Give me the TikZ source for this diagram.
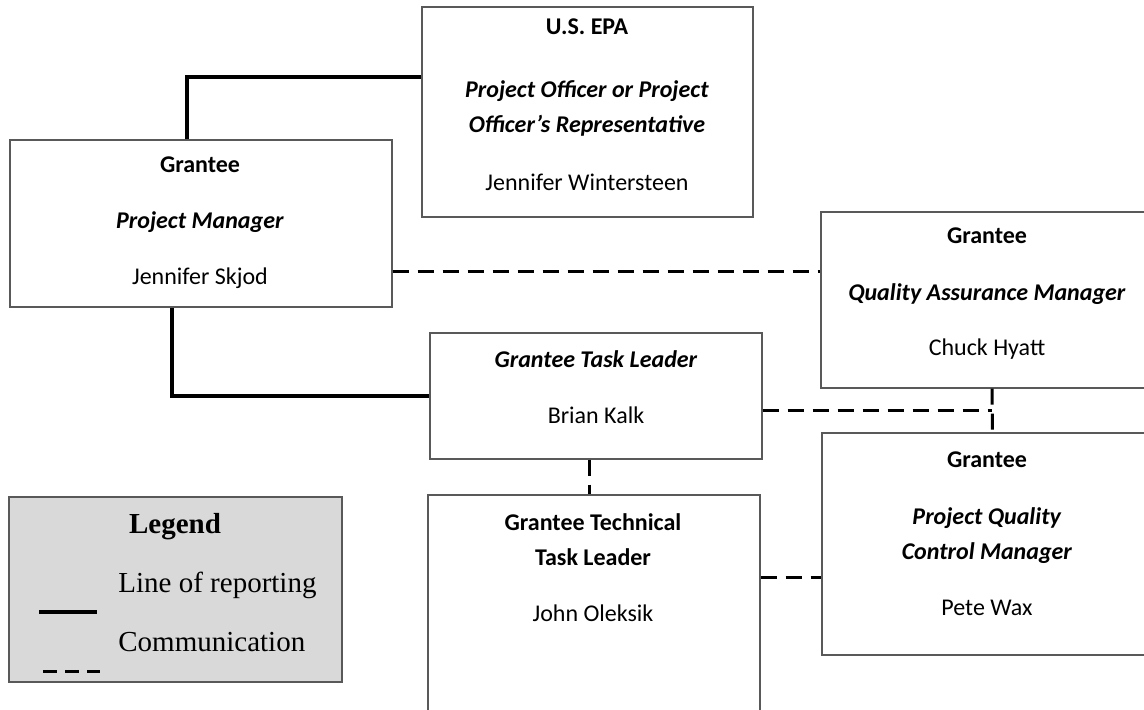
\documentclass[tikz,border=0pt]{standalone}
\usepackage{fontspec}
\setmainfont{Carlito}
\newfontfamily\legendfont{Liberation Serif}
\usetikzlibrary{shapes}
\tikzstyle{block} = [rectangle, draw=black!65, line width=0.6pt, fill=white]
\tikzstyle{boxtext} = [align=center, inner sep=0pt,
    font=\fontsize{12}{17.5}\selectfont]
\tikzstyle{solidline} = [draw=black, line width=1.6pt]
\tikzstyle{dashline} = [draw=black, line width=1.5pt, dash pattern=on 8pt off 4.5pt]
\tikzstyle{legendbox} = [rectangle, draw=black!65, line width=0.8pt, fill=black!15]
\tikzstyle{legendtext} = [inner sep=0pt, font=\legendfont\fontsize{14.5}{17}\selectfont]

\begin{document}
\begin{tikzpicture}[x=0.5pt, y=-0.5pt]
        \useasboundingbox (0,0) rectangle (1144,709);
        \clip (0,0) rectangle (1144,709);
        % Place boxes
        \node [block, minimum width=165.5pt, minimum height=105pt] (epa) at (587.5,112) {};
        \node [block, minimum width=191pt, minimum height=83.5pt] (pm) at (201,223.5) {};
        \node [block, minimum width=166pt, minimum height=63pt] (tl) at (596,396) {};
        \node [block, minimum width=166pt, minimum height=132.5pt] (tech) at (594,627.5) {};
        \node [block, minimum width=171pt, minimum height=88pt] (qa) at (992,300) {};
        \node [block, minimum width=170.5pt, minimum height=111pt] (pqc) at (992.5,544) {};
        % Box texts
        \node [boxtext] (epatext) at (587,105) {\textbf{U.S. EPA}\\[14pt]
            \textbf{\textit{Project Officer or Project}}\\
            \textbf{\textit{Officer’s Representative}}\\[11.5pt]
            Jennifer Wintersteen};
        \node [boxtext] (pmtext) at (200,223) {\textbf{Grantee}\\[10.5pt]
            \textbf{\textit{Project Manager}}\\[10.5pt]
            Jennifer Skjod};
        \node [boxtext] (tltext) at (596,387) {\textbf{\textit{Grantee Task Leader}}\\[10.5pt]
            Brian Kalk};
        \node [boxtext] (techtext) at (593,567.5) {\textbf{Grantee Technical}\\
            \textbf{Task Leader}\\[10.5pt]
            John Oleksik};
        \node [boxtext] (qatext) at (987,293.5) {\textbf{Grantee}\\[11pt]
            \textbf{\textit{Quality Assurance Manager}}\\[10pt]
            Chuck Hyatt};
        \node [boxtext] (pqctext) at (987,534) {\textbf{Grantee}\\[11pt]
            \textbf{\textit{Project Quality}}\\
            \textbf{\textit{Control Manager}}\\[10.5pt]
            Pete Wax};
        % Legend
        \node [legendbox, minimum width=166.5pt, minimum height=92.5pt] (legend) at (175.5,589.5) {};
        \node [legendtext] (legendtitle) at (175,527) {\textbf{Legend}};
        \node [legendtext, anchor=west] (reporting) at (118,585) {Line of reporting};
        \node [legendtext, anchor=west] (communication) at (118,642) {Communication};
        \coordinate (solidstart) at (39,612);
        \coordinate (solidend) at (97,612);
        \coordinate (dashstart) at (43,671);
        \coordinate (dashend) at (100,671);
        % Draw edges
        \path [solidline] ([xshift=-7pt]pm.north) |- ([yshift=17.5pt]epa.west);
        \path [solidline] ([xshift=-14.5pt]pm.south) |- (tl.west);
        \path [dashline] ([yshift=-23.75pt]pm.east) -- ([yshift=-23.75pt]pm.east -| qa.west);
        \path [dashline] ([yshift=-7pt]tl.east) -- ([yshift=-7pt]tl.east -| qa.south);
        \path [dashline] (qa.south) -- (pqc.north);
        \path [dashline] ([xshift=-3.5pt]tl.south) -- ([xshift=-3.5pt]tl.south |- tech.north);
        \path [dashline] ([yshift=25.25pt]tech.east) -- ([yshift=25.25pt]tech.east -| pqc.west);
        \path [solidline] (solidstart) -- (solidend);
        \path [dashline, dash pattern=on 7pt off 4pt] (dashstart) -- (dashend);
    \end{tikzpicture}
\end{document}
